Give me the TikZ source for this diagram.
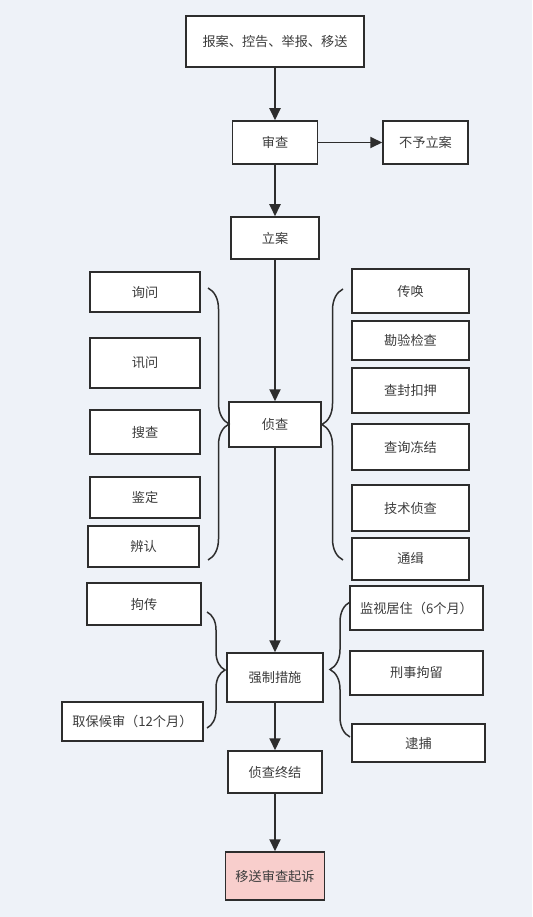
\documentclass[tikz,border=0pt]{standalone}
\usepackage{fontspec}
\setmainfont{Noto Sans CJK SC}
\usepackage{xcolor}
\usepackage{tikz}
\usetikzlibrary{arrows.meta, positioning, decorations.pathreplacing}
\definecolor{bgblue}{RGB}{238,242,248}
\definecolor{linegray}{RGB}{45,45,45}
\definecolor{txtgray}{RGB}{60,60,60}
\definecolor{pinkfill}{RGB}{248,206,204}

\begin{document}
\begin{tikzpicture}[
  every node/.style={font=\fontsize{7.5}{9}\selectfont, align=center, text=txtgray},
  box/.style={draw=linegray, line width=0.85pt, fill=white, inner sep=2pt,
              minimum width=1.8cm, minimum height=0.86cm},
  lbox/.style={box, minimum width=2.2cm},
  rbox/.style={box, minimum width=2.34cm},
  endbox/.style={box, fill=pinkfill},
  arr/.style={-{Triangle[length=2.4mm, width=2.2mm]}, line width=1.1pt, draw=linegray},
  brc/.style={decorate, decoration={brace, amplitude=#1}, line width=0.85pt, draw=linegray},
  brc/.default=0.4cm,
]
  \fill[bgblue] (0,0) rectangle (10.64,-18.34);
  \useasboundingbox (0,0) rectangle (10.64,-18.34);

  % main line
  \node[box, minimum width=3.56cm, minimum height=1.02cm] (src) at (5.50,-0.83) {报案、控告、举报、移送};
  \node[box, minimum width=1.70cm] (shencha)  at (5.50,-2.85)  {审查};
  \node[box, minimum width=1.70cm] (buyu)     at (8.51,-2.85)  {不予立案};
  \node[box, minimum width=1.76cm, minimum height=0.84cm] (lian) at (5.50,-4.76) {立案};
  \node[box, minimum width=1.84cm, minimum height=0.90cm] (zhencha) at (5.50,-8.49) {侦查};
  \node[box, minimum width=1.92cm, minimum height=0.98cm] (qiangzhi) at (5.50,-13.55) {强制措施};
  \node[box, minimum width=1.88cm, minimum height=0.84cm] (zhongjie) at (5.50,-15.44) {侦查终结};
  \node[endbox, minimum width=1.98cm, minimum height=0.96cm] (yisong) at (5.50,-17.52) {移送审查起诉};

  % left of 侦查
  \node[lbox, minimum height=0.80cm] (xunwen)   at (2.90,-5.84)  {询问};
  \node[lbox, minimum height=1.00cm] (xunwen2)  at (2.90,-7.26)  {讯问};
  \node[lbox, minimum height=0.88cm] (soucha)   at (2.90,-8.64)  {搜查};
  \node[lbox, minimum height=0.82cm] (jianding) at (2.90,-9.95)  {鉴定};
  \node[lbox, minimum width=2.22cm, minimum height=0.82cm] (bianren) at (2.87,-10.93) {辨认};

  % right of 侦查
  \node[rbox, minimum height=0.88cm] (chuanhuan) at (8.21,-5.82)  {传唤};
  \node[rbox, minimum height=0.78cm] (kanyan)    at (8.21,-6.81)  {勘验检查};
  \node[rbox, minimum height=0.90cm] (chafeng)   at (8.21,-7.81)  {查封扣押};
  \node[rbox, minimum height=0.92cm] (chaxun)    at (8.21,-8.94)  {查询冻结};
  \node[rbox, minimum height=0.92cm] (jishu)     at (8.21,-10.16) {技术侦查};
  \node[rbox, minimum height=0.84cm] (tongji)    at (8.21,-11.18) {通缉};

  % around 强制措施
  \node[box, minimum width=2.28cm, minimum height=0.84cm] (juchuan) at (2.88,-12.08) {拘传};
  \node[box, minimum width=2.82cm, minimum height=0.78cm] (qubao)   at (2.65,-14.43) {取保候审（12个月）};
  \node[box, minimum width=2.66cm, minimum height=0.88cm] (jianshi) at (8.33,-12.16) {监视居住（6个月）};
  \node[box, minimum width=2.66cm, minimum height=0.88cm] (xingshi) at (8.33,-13.46) {刑事拘留};
  \node[box, minimum width=2.66cm, minimum height=0.76cm] (daibu)   at (8.37,-14.86) {逮捕};

  % braces
  \coordinate (zlT) at (4.16,-5.76);  \coordinate (zlB) at (4.16,-11.20);
  \coordinate (zrT) at (6.86,-5.78);  \coordinate (zrB) at (6.86,-11.20);
  \coordinate (qlT) at (4.14,-12.24); \coordinate (qlB) at (4.14,-14.56);
  \coordinate (qrT) at (7.00,-12.04); \coordinate (qrB) at (7.00,-14.74);
  \draw[brc=0.42cm] (zlT) -- (zlB);
  \draw[brc=0.42cm] (zrB) -- (zrT);
  \draw[brc=0.36cm] (qlT) -- (qlB);
  \draw[brc=0.40cm] (qrB) -- (qrT);

  \draw[arr] (src) -- (shencha);
  \draw[arr] (shencha) -- (buyu);
  \draw[arr] (shencha) -- (lian);
  \draw[arr] (lian) -- (zhencha);
  \draw[arr] (zhencha) -- (qiangzhi);
  \draw[arr] (qiangzhi) -- (zhongjie);
  \draw[arr] (zhongjie) -- (yisong);
\end{tikzpicture}
\end{document}
